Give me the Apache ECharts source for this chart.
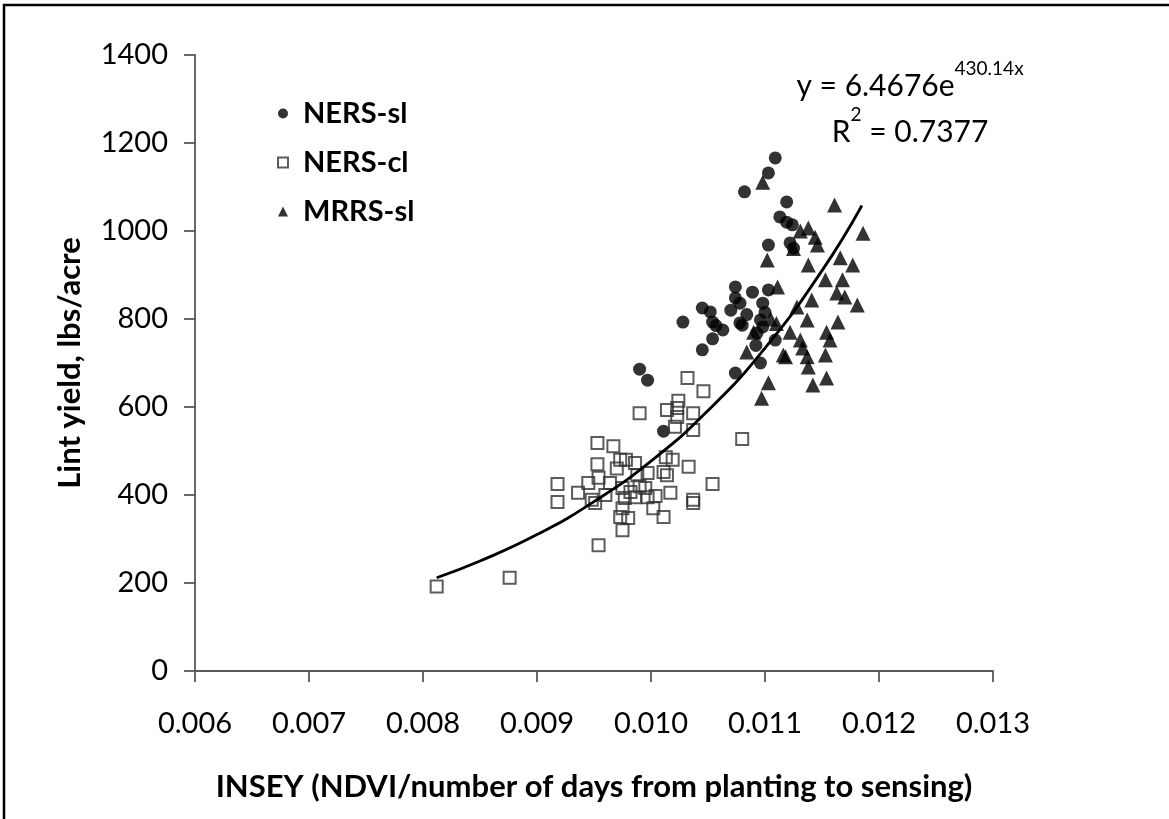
<!DOCTYPE html>
<html>
<head>
<meta charset="utf-8">
<script src="https://cdn.jsdelivr.net/npm/echarts@6/dist/echarts.min.js"></script>
<style>
html,body{margin:0;padding:0;background:#fff;}
#c{width:1169px;height:819px;}
</style>
</head>
<body>
<div id="c"></div>
<script>
// ---- data ----
const nersSl = [
  [0.00990,686],[0.00997,661],[0.01011,545],[0.01028,793],[0.01045,825],[0.01052,816],
  [0.01054,793],[0.01054,755],[0.01045,730],[0.01063,775],[0.01074,677],[0.01078,791],
  [0.01082,1089],[0.01103,1132],[0.01109,1166],[0.01119,1066],[0.01113,1032],[0.01119,1020],
  [0.01124,1014],[0.01103,968],[0.01122,973],[0.01125,961],[0.01074,873],[0.01089,861],
  [0.01103,866],[0.01074,848],[0.01078,836],[0.01098,836],[0.01080,786],[0.01096,798],
  [0.01098,782],[0.01109,752],[0.01096,700],[0.01093,768],[0.01084,810],[0.01100,815],
  [0.01092,740],[0.01070,820],[0.01057,785]
];
const nersCl = [
  [0.00812,192],[0.00876,212],[0.00918,425],[0.00918,384],[0.00936,405],[0.00945,427],
  [0.00953,518],[0.00953,470],[0.00954,439],[0.00951,382],[0.00948,389],[0.00967,511],
  [0.00973,480],[0.00978,480],[0.00986,473],[0.00997,450],[0.00988,445],[0.00964,427],
  [0.00975,416],[0.00982,407],[0.00986,395],[0.00977,393],[0.00995,416],[0.00997,395],
  [0.01004,398],[0.01017,405],[0.01002,370],[0.01011,350],[0.00973,350],[0.00980,348],
  [0.00975,320],[0.00954,286],[0.00975,370],[0.01013,486],[0.01019,480],[0.01011,452],
  [0.01014,445],[0.01033,464],[0.01037,389],[0.01037,382],[0.01054,425],[0.01021,555],
  [0.01037,548],[0.01032,666],[0.01046,636],[0.01024,614],[0.01023,598],[0.01023,577],
  [0.01014,593],[0.01037,586],[0.01080,527],[0.00990,586],[0.00970,460],[0.00960,400],
  [0.00990,420]
];
const mrrsSl = [
  [0.01098,1111],[0.01161,1059],[0.01186,995],[0.01138,1007],[0.01144,986],[0.01146,968],
  [0.01102,934],[0.01138,923],[0.01166,939],[0.01177,923],[0.01153,889],[0.01168,889],
  [0.01163,859],[0.01170,850],[0.01181,832],[0.01141,843],[0.01137,798],[0.01164,793],
  [0.01154,770],[0.01157,752],[0.01122,770],[0.01131,752],[0.01133,734],[0.01137,714],
  [0.01138,691],[0.01118,714],[0.01153,718],[0.01142,650],[0.01154,666],[0.01103,655],
  [0.01097,620],[0.01111,873],[0.01128,827],[0.01084,725],[0.01116,718],[0.01105,800],
  [0.01110,790],[0.01090,770],[0.01125,960],[0.01131,1000]
];
// trendline points
const trendX = [0.00812,0.0085,0.0090,0.0095,0.0100,0.0105,0.0110,0.0115,0.01185];
const trendY = [212,250,310,385,477,592,734,910,1058];
const seriesNames = ['NERS-sl','NERS-cl','MRRS-sl'];
const xTicks = ['0.006','0.007','0.008','0.009','0.010','0.011','0.012','0.013'];
const yTicks = [0,200,400,600,800,1000,1200,1400];

const FONT = 'Lato, "Open Sans", sans-serif';
const chart = echarts.init(document.getElementById('c'), null, {renderer:'canvas'});
const trend = trendX.map((x,i)=>[x,trendY[i]]);

chart.setOption({
  backgroundColor:'#fff',
  animation:false,
  grid:{left:195,right:176,top:55,bottom:148,containLabel:false},
  xAxis:{
    type:'value', min:0.006, max:0.013, interval:0.001,
    name:'INSEY (NDVI/number of days from planting to sensing)',
    nameLocation:'middle', nameGap:100,
    nameTextStyle:{fontFamily:FONT,fontWeight:'bold',fontSize:31,color:'#000'},
    axisLine:{lineStyle:{color:'#595959',width:1.8}},
    axisTick:{show:true,length:11,lineStyle:{color:'#595959',width:1.8}},
    axisLabel:{fontFamily:FONT,fontSize:29,color:'#000',margin:38,
      formatter:(v)=>{const i=Math.round((v-0.006)/0.001);return xTicks[i]||'';}},
    splitLine:{show:false}
  },
  yAxis:{
    type:'value', min:0, max:1400, interval:200,
    name:'Lint yield, lbs/acre',
    nameLocation:'middle', nameGap:110, nameRotate:90,
    nameTextStyle:{fontFamily:FONT,fontWeight:'bold',fontSize:31,color:'#000'},
    axisLine:{show:true,lineStyle:{color:'#595959',width:1.8}},
    axisTick:{show:true,length:11,lineStyle:{color:'#595959',width:1.8}},
    axisLabel:{fontFamily:FONT,fontSize:29,color:'#000',margin:27,
      formatter:(v)=>String(yTicks[Math.round(v/200)])},
    splitLine:{show:false}
  },
  legend:{
    data:seriesNames, orient:'vertical', left:272, top:94, itemGap:20,
    itemWidth:10, itemHeight:10,
    textStyle:{fontFamily:FONT,fontWeight:'bold',fontSize:29,color:'#000',padding:[0,0,0,10]}
  },
  graphic:[
    {type:'rect',silent:true,shape:{x:4,y:5,width:1180,height:830},
     style:{fill:'none',stroke:'#000',lineWidth:2.5},z:100},
    {type:'text',x:910,y:80,style:{
      text:'{a|y = 6.4676e}{s|430.14x}', align:'center', verticalAlign:'middle',
      rich:{a:{fontFamily:FONT,fontSize:30,fill:'#000',padding:[12,0,0,0]},
            s:{fontFamily:FONT,fontSize:19,fill:'#000',padding:[0,0,22,0]}}
    }},
    {type:'text',x:910,y:126,style:{
      text:'{a|R}{s|2}{a| = 0.7377}', align:'center', verticalAlign:'middle',
      rich:{a:{fontFamily:FONT,fontSize:30,fill:'#000',padding:[12,0,0,0]},
            s:{fontFamily:FONT,fontSize:19,fill:'#000',padding:[0,0,22,0]}}
    }}
  ],
  series:[
    {name:'NERS-sl',type:'scatter',data:nersSl,symbol:'circle',symbolSize:13,
     itemStyle:{color:'#000'}},
    {name:'NERS-cl',type:'scatter',data:nersCl,symbol:'rect',symbolSize:12,
     itemStyle:{color:'rgba(255,255,255,0)',borderColor:'#333',borderWidth:2}},
    {name:'MRRS-sl',type:'scatter',data:mrrsSl,symbol:'triangle',symbolSize:15,
     itemStyle:{color:'#000'}},
    {name:'trend',type:'line',data:trend,smooth:true,symbol:'none',
     lineStyle:{color:'#000',width:2.8},z:5}
  ]
});
</script>
</body>
</html>
